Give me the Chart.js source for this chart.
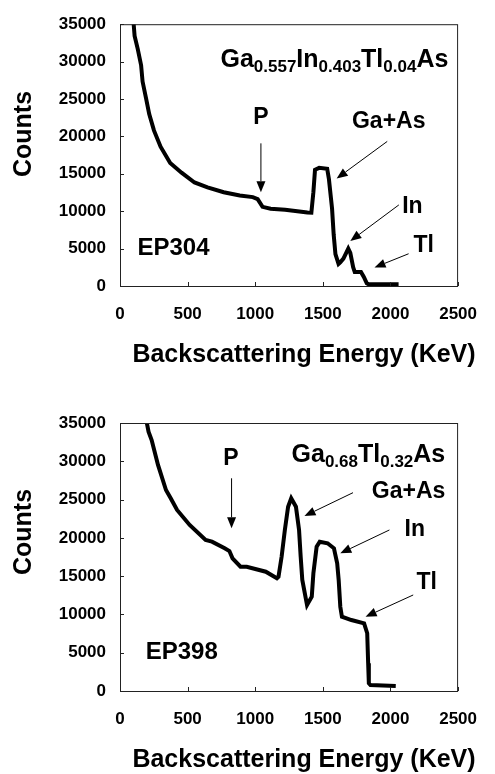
<!DOCTYPE html>
<html>
<head>
<meta charset="utf-8">
<script src="https://cdn.jsdelivr.net/npm/chart.js@4/dist/chart.umd.min.js"></script>
<style>
  body { margin: 0; background: #fff; }
  .box { position: absolute; left: 0; width: 495px; height: 387px; }
</style>
</head>
<body>
<div class="box" style="top:0"><canvas id="CHART1" width="495" height="387"></canvas></div>
<div class="box" style="top:387px"><canvas id="CHART2" width="495" height="387"></canvas></div>
<script>
// DATA

// EP304 - Ga0.557In0.403Tl0.04As
const topEnergy = [101, 108, 131, 156, 167, 192, 216, 251, 300, 371, 455, 551, 647, 767, 886, 982,
    1018, 1054, 1114, 1221, 1386, 1415, 1430, 1442, 1473, 1532, 1545, 1568, 1580, 1593, 1616, 1629,
    1652, 1688, 1703, 1724, 1736, 1782, 1803, 1825, 1839, 2060];
const topCounts = [35000, 33430, 31700, 29520, 27330, 25160, 22990, 20800, 18630, 16450, 15150, 13840, 13190, 12540, 12110, 11880,
    11620, 10580, 10320, 10190, 9830, 9800, 12540, 15540, 15800, 15670, 14270, 10360, 6880, 4270, 2960, 3170,
    3660, 5000, 4440, 2520, 1870, 1870, 1220, 350, 220, 220];

// EP398 - Ga0.68Tl0.32As
const bottomEnergy = [199, 211, 234, 281, 340, 375, 422, 515, 633, 680, 774, 809, 832, 891, 937, 1078,
    1160, 1172, 1195, 1219, 1243, 1266, 1301, 1324, 1336, 1348, 1383, 1418, 1430, 1454, 1477, 1535,
    1582, 1606, 1617, 1629, 1641, 1711, 1805, 1828, 1835, 1840, 1852, 2039];
const bottomCounts = [34960, 33870, 32780, 29520, 26250, 25170, 23640, 21680, 19720, 19500, 18640, 18280, 17330, 16230, 16230, 15580,
    14720, 14930, 17540, 21030, 24070, 25170, 24070, 21030, 17540, 14500, 11230, 12320, 15370, 18850, 19500, 19290,
    18640, 16680, 14500, 11010, 9700, 9270, 8840, 7540, 3620, 1010, 780, 650];

const xTickValues = [0, 500, 1000, 1500, 2000, 2500];
const yTickValues = [0, 5000, 10000, 15000, 20000, 25000, 30000, 35000];

// annotations (energy, counts)
const topFormula = { parts: [["Ga", 0], ["0.557", 1], ["In", 0], ["0.403", 1], ["Tl", 0], ["0.04", 1], ["As", 0]], x: 2428, y: 29250 };
const topLabels = [
    { text: "P", x: 1042, y: 22550 },
    { text: "Ga+As", x: 1987, y: 21940 },
    { text: "In", x: 2162, y: 10580 },
    { text: "Tl", x: 2245, y: 5350 },
    { text: "EP304", x: 129, y: 5090, left: true }
];
const topArrows = [
    [1042, 19070, 1042, 12540],
    [1976, 19330, 1602, 14370],
    [2062, 10840, 1703, 6010],
    [2134, 4310, 1882, 2480]
];

const bottomFormula = { parts: [["Ga", 0], ["0.68", 1], ["Tl", 0], ["0.32", 1], ["As", 0]], x: 2405, y: 29950 };
const bottomLabels = [
    { text: "P", x: 821, y: 30390 },
    { text: "Ga+As", x: 2134, y: 26030 },
    { text: "In", x: 2180, y: 21030 },
    { text: "Tl", x: 2268, y: 14140 },
    { text: "EP398", x: 190, y: 5090, left: true }
];
const bottomArrows = [
    [825, 27780, 825, 21250],
    [1723, 25900, 1364, 22850],
    [1992, 21030, 1629, 17980],
    [2168, 12540, 1816, 9700]
];

const FONT = "'Liberation Sans', Arial, sans-serif";

function drawArrow(ctx, x1, y1, x2, y2) {
    const a = Math.atan2(y2 - y1, x2 - x1);
    const len = 11, hw = 4.5;
    ctx.beginPath();
    ctx.moveTo(x1, y1);
    ctx.lineTo(x2 - Math.cos(a) * len, y2 - Math.sin(a) * len);
    ctx.stroke();
    ctx.beginPath();
    ctx.moveTo(x2, y2);
    ctx.lineTo(x2 - Math.cos(a) * len - Math.sin(a) * hw, y2 - Math.sin(a) * len + Math.cos(a) * hw);
    ctx.lineTo(x2 - Math.cos(a) * len + Math.sin(a) * hw, y2 - Math.sin(a) * len - Math.cos(a) * hw);
    ctx.closePath();
    ctx.fill();
}

// draws frame, inward ticks, titles and notes
const notesPlugin = {
    id: "notes",
    afterDraw(chart) {
        const o = chart.options.plugins.notes;
        const ctx = chart.ctx;
        const area = chart.chartArea;
        const xs = chart.scales.x, ys = chart.scales.y;
        ctx.save();
        ctx.strokeStyle = "#222";
        ctx.fillStyle = "#000";
        ctx.lineWidth = 1;
        ctx.strokeRect(area.left + 0.5, area.top + 0.5, area.right - area.left - 1, area.bottom - area.top);

        // inward tick marks
        ctx.beginPath();
        xTickValues.forEach(v => {
            const px = Math.round(xs.getPixelForValue(v)) + 0.5;
            ctx.moveTo(px, area.bottom);
            ctx.lineTo(px, area.bottom - 4);
        });
        yTickValues.forEach(v => {
            const py = Math.round(ys.getPixelForValue(v)) + 0.5;
            ctx.moveTo(area.left, py);
            ctx.lineTo(area.left + 4, py);
        });
        ctx.stroke();

        // axis titles
        ctx.font = "bold 25px " + FONT;
        ctx.textAlign = "center";
        ctx.textBaseline = "middle";
        ctx.fillText("Backscattering Energy (KeV)", o.xTitle[0], o.xTitle[1]);
        ctx.save();
        ctx.translate(o.yTitle[0], o.yTitle[1]);
        ctx.rotate(-Math.PI / 2);
        ctx.fillText("Counts", 0, 0);
        ctx.restore();

        // labels
        o.labels.forEach(l => {
            ctx.font = "bold " + (l.left ? 24 : 23) + "px " + FONT;
            ctx.textAlign = l.left ? "left" : "center";
            ctx.fillText(l.text, xs.getPixelForValue(l.x), ys.getPixelForValue(l.y));
        });

        // formula with subscripts, right aligned
        const f = o.formula;
        ctx.textAlign = "left";
        ctx.textBaseline = "alphabetic";
        let total = 0;
        f.parts.forEach(p => {
            ctx.font = "bold " + (p[1] ? 17 : 25) + "px " + FONT;
            total += ctx.measureText(p[0]).width;
        });
        let fx = xs.getPixelForValue(f.x) - total;
        const fy = ys.getPixelForValue(f.y);
        f.parts.forEach(p => {
            ctx.font = "bold " + (p[1] ? 17 : 25) + "px " + FONT;
            ctx.fillText(p[0], fx, fy + (p[1] ? 5 : 0));
            fx += ctx.measureText(p[0]).width;
        });

        // arrows
        ctx.strokeStyle = "#000";
        o.arrows.forEach(a => {
            drawArrow(ctx, xs.getPixelForValue(a[0]), ys.getPixelForValue(a[1]),
                xs.getPixelForValue(a[2]), ys.getPixelForValue(a[3]));
        });
        ctx.restore();
    }
};

function makeChart(canvas, energy, counts, cfg) {
    return new Chart(canvas, {
        type: "scatter",
        data: {
            datasets: [{
                data: energy.map((e, i) => ({ x: e, y: counts[i] })),
                showLine: true,
                borderColor: "#000",
                backgroundColor: "#000",
                borderWidth: 4,
                pointRadius: 0,
                tension: 0,
            }],
        },
        options: {
            responsive: false,
            animation: false,
            layout: { padding: { top: cfg.top, right: cfg.right, left: 0, bottom: 0 } },
            plugins: {
                legend: { display: false },
                tooltip: { enabled: false },
                notes: cfg.notes,
            },
            scales: {
                x: {
                    type: "linear",
                    min: 0,
                    max: 2500,
                    grid: { display: false, drawTicks: false },
                    border: { display: false },
                    afterBuildTicks: s => { s.ticks = xTickValues.map(v => ({ value: v })); },
                    afterFit: s => { s.height = cfg.xHeight; },
                    ticks: {
                        color: "#000", padding: 18, maxRotation: 0,
                        font: { family: FONT, size: 17, weight: "bold" },
                        callback: v => String(v),
                    },
                },
                y: {
                    min: 0,
                    max: 35000,
                    grid: { display: false, drawTicks: false },
                    border: { display: false },
                    afterBuildTicks: s => { s.ticks = yTickValues.map(v => ({ value: v })); },
                    afterFit: s => { s.width = 120; },
                    ticks: {
                        color: "#000", padding: 14,
                        font: { family: FONT, size: 17, weight: "bold" },
                        callback: v => String(v),
                    },
                },
            },
        },
        plugins: [notesPlugin],
    });
}

const chart1 = makeChart(document.getElementById("CHART1"), topEnergy, topCounts, {
    top: 18, right: 27, xHeight: 101,
    notes: { labels: topLabels, arrows: topArrows, formula: topFormula, xTitle: [304, 355], yTitle: [24, 134] },
});
const chart2 = makeChart(document.getElementById("CHART2"), bottomEnergy, bottomCounts, {
    top: 36, right: 19, xHeight: 83,
    notes: { labels: bottomLabels, arrows: bottomArrows, formula: bottomFormula, xTitle: [304, 373], yTitle: [24, 145] },
});
</script>
</body>
</html>
